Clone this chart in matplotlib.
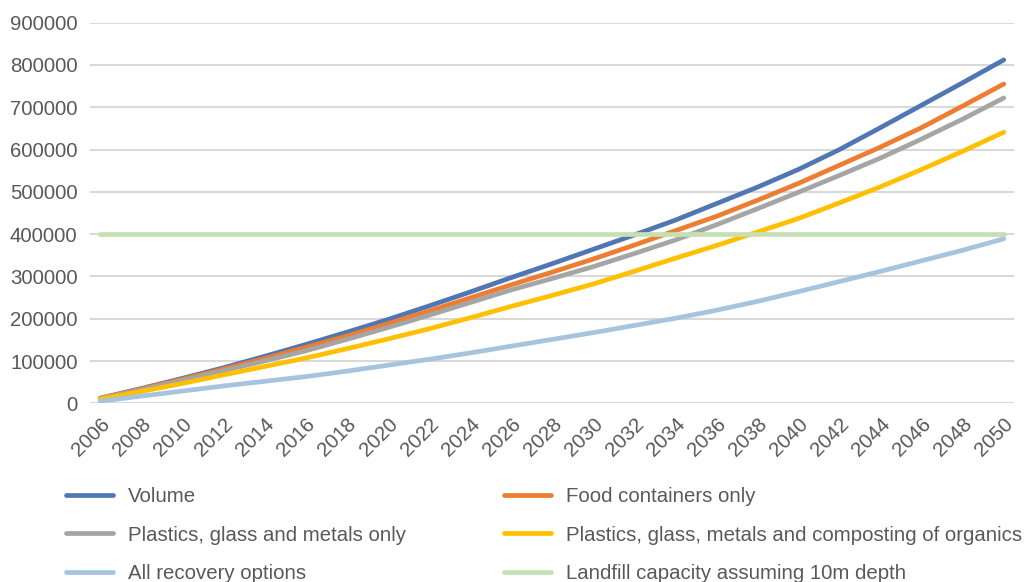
import matplotlib
matplotlib.use("Agg")
import matplotlib.pyplot as plt
import matplotlib.transforms as mtransforms
from matplotlib.ticker import MultipleLocator

plt.rcParams['font.family'] = ['Liberation Sans', 'DejaVu Sans']

# cumulative landfill volume (m3), every second year
years = [2006, 2008, 2010, 2012, 2014, 2016, 2018, 2020, 2022, 2024, 2026, 2028,
         2030, 2032, 2034, 2036, 2038, 2040, 2042, 2044, 2046, 2048, 2050]

volume = [12000, 35000, 59000, 84000, 111000, 139000, 168000, 198000, 230000, 263000,
          297000, 330000, 364000, 398000, 433000, 472000, 511000, 553000, 600000,
          652000, 705000, 758000, 812000]
food = [12000, 34000, 57000, 81000, 106000, 132000, 159000, 188000, 218000, 249000,
        280000, 310000, 341000, 374000, 408000, 442000, 480000, 520000, 563000,
        606000, 652000, 703000, 755000]
pgm = [11000, 32000, 54000, 77000, 100000, 124000, 151000, 179000, 208000, 238000,
       268000, 295000, 323000, 354000, 386000, 422000, 460000, 499000, 539000,
       580000, 625000, 672000, 722000]
pgm_compost = [10000, 28000, 47000, 67000, 87000, 107000, 129000, 152000, 176000,
               202000, 229000, 255000, 282000, 312000, 343000, 373000, 405000, 437000,
               474000, 512000, 553000, 596000, 641000]
all_recovery = [5000, 17000, 29000, 41000, 52000, 63000, 76000, 90000, 104000, 119000,
                135000, 151000, 167000, 184000, 201000, 220000, 241000, 264000, 288000,
                312000, 337000, 362000, 389000]
capacity = [400000] * len(years)

series = [
    ("Volume", volume, "#5077b3"),
    ("Food containers only", food, "#ed7d31"),
    ("Plastics, glass and metals only", pgm, "#a5a5a5"),
    ("Plastics, glass, metals and composting of organics", pgm_compost, "#ffc000"),
    ("All recovery options", all_recovery, "#a6c4de"),
    ("Landfill capacity assuming 10m depth", capacity, "#c6e0b4"),
]

txt = "#595959"
fs = 14.7
fig = plt.figure(figsize=(10.32, 5.82), dpi=100)
ax = fig.add_axes([90 / 1032, 1 - 403.3 / 582, 924 / 1032, (403.3 - 22.7) / 582])

lines = []
for name, vals, col in series:
    ln, = ax.plot(years, vals, color=col, lw=3.4, solid_capstyle='round', label=name)
    lines.append(ln)

ax.set_xlim(2005.5, 2050.5)
ax.set_ylim(0, 900000)
ax.yaxis.set_major_locator(MultipleLocator(100000))
ax.set_xticks(years)
ax.set_xticklabels([str(y) for y in years], rotation=45, ha='right',
                   rotation_mode='anchor')
shift = mtransforms.ScaledTranslation(12 / 100, 0, fig.dpi_scale_trans)
for lab in ax.get_xticklabels():
    lab.set_transform(lab.get_transform() + shift)
ax.grid(axis='y', color='#d9d9d9', lw=1.5)
ax.set_axisbelow(True)
for s in ax.spines.values():
    s.set_visible(False)
ax.tick_params(axis='both', length=0, labelsize=fs, colors=txt)
ax.tick_params(axis='y', pad=9)
ax.tick_params(axis='x', pad=8)

# legend: column-wise order so rows read left to right
order = [0, 2, 4, 1, 3, 5]
fig.legend([lines[i] for i in order], [series[i][0] for i in order],
           ncol=2, loc='upper left', bbox_to_anchor=(66 / 1032, 1 - 487 / 582),
           frameon=False, fontsize=fs, labelcolor=txt, handlelength=2.3,
           handletextpad=0.73, columnspacing=4.8, labelspacing=0.96,
           borderaxespad=0, borderpad=0)

fig.savefig("out.png", dpi=100)
